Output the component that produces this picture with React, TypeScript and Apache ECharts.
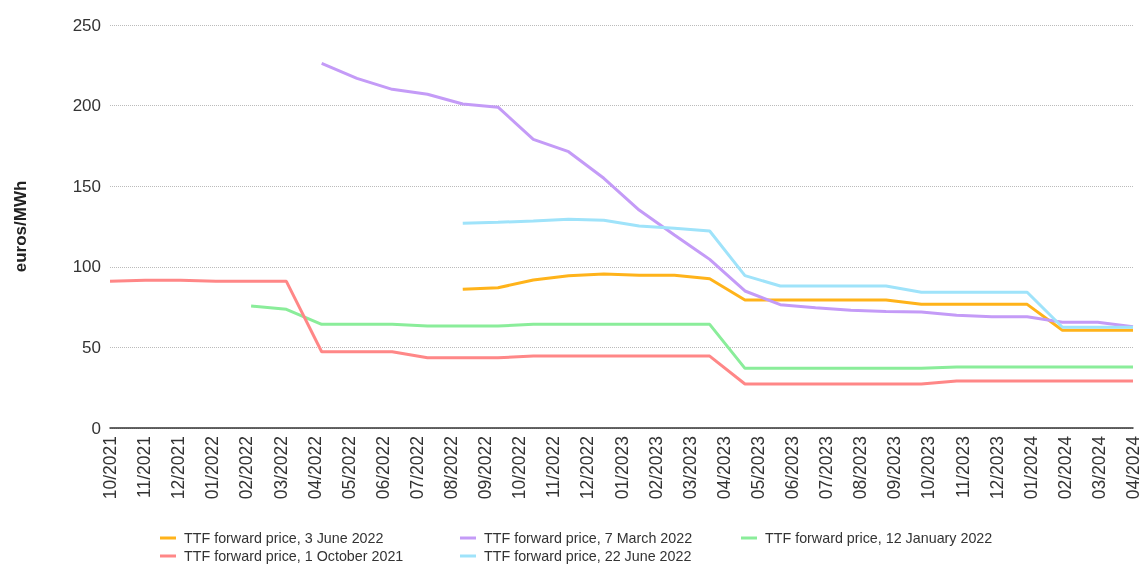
import React, { useEffect, useRef } from "react";
import * as echarts from "echarts";

// Displayed tick labels (31 months)
const axisLabels = [
  "10/2021", "11/2021", "12/2021", "01/2022", "02/2022", "03/2022", "04/2022", "05/2022",
  "06/2022", "07/2022", "08/2022", "09/2022", "10/2022", "11/2022", "12/2022", "01/2023",
  "02/2023", "03/2023", "04/2023", "05/2023", "06/2023", "07/2023", "08/2023", "09/2023",
  "10/2023", "11/2023", "12/2023", "01/2024", "02/2024", "03/2024", "04/2024",
];

// Data months (30 delivery months)
const dataMonths = [
  "10/2021", "11/2021", "12/2021", "01/2022", "02/2022", "03/2022", "04/2022", "05/2022",
  "06/2022", "07/2022", "08/2022", "09/2022", "10/2022", "11/2022", "12/2022", "01/2023",
  "02/2023", "03/2023", "04/2023", "05/2023", "06/2023", "07/2023", "08/2023", "09/2023",
  "10/2023", "11/2023", "12/2023", "01/2024", "02/2024", "03/2024",
];

const june3 = [
  null, null, null, null, null, null, null, null, null, null,
  86, 87, 91.8, 94.5, 95.5, 94.7, 94.7, 92.6, 79.4, 79.4,
  79.4, 79.4, 79.4, 76.7, 76.7, 76.7, 76.7, 60.6, 60.6, 60.6,
];
const march7 = [
  null, null, null, null, null, null,
  226.2, 216.9, 210.1, 207, 201, 199, 179.1, 171.4, 154.9, 135.2,
  119.7, 104.6, 85, 76.5, 74.6, 73, 72.2, 72, 69.9, 69,
  69, 65.6, 65.6, 62.8,
];
const jan12 = [
  null, null, null, null,
  75.7, 73.6, 64.3, 64.3, 64.3, 63.3, 63.3, 63.3, 64.3, 64.3,
  64.3, 64.3, 64.3, 64.3, 37.0, 37.0, 37.0, 37.0, 37.0, 37.0,
  37.8, 37.8, 37.8, 37.8, 37.8, 37.8,
];
const oct1 = [
  91, 91.6, 91.6, 91, 91, 91, 47.3, 47.3, 47.3, 43.6,
  43.6, 43.6, 44.6, 44.6, 44.6, 44.6, 44.6, 44.6, 27.3, 27.3,
  27.3, 27.3, 27.3, 27.3, 29.2, 29.2, 29.2, 29.2, 29.2, 29.2,
];
const june22 = [
  null, null, null, null, null, null, null, null, null, null,
  127, 127.6, 128.4, 129.5, 128.9, 125.3, 123.9, 122.2, 94.5, 88.1,
  88.1, 88.1, 88.1, 84.2, 84.2, 84.2, 84.2, 62.5, 62.5, 62.5,
];

const seriesDefs = [
  { name: "TTF forward price, 3 June 2022", data: june3, color: "#ffb31a" },
  { name: "TTF forward price, 7 March 2022", data: march7, color: "#c49bf7" },
  { name: "TTF forward price, 12 January 2022", data: jan12, color: "#8aed9a" },
  { name: "TTF forward price, 1 October 2021", data: oct1, color: "#ff8787" },
  { name: "TTF forward price, 22 June 2022", data: june22, color: "#9fe3fa" },
];

const FONT = "'Liberation Sans', Arial, sans-serif";

export default function App() {
  const ref = useRef<HTMLDivElement>(null);
  useEffect(() => {
    if (!ref.current) return;
    const chart = echarts.init(ref.current, undefined, { renderer: "svg" });
    const legendPos = [
      { left: 160, top: 531 },
      { left: 460, top: 531 },
      { left: 741, top: 531 },
      { left: 160, top: 549 },
      { left: 460, top: 549 },
    ];
    chart.setOption({
      animation: false,
      textStyle: { fontFamily: FONT },
      grid: { left: 110, right: 9, top: 25, bottom: 141, containLabel: false },
      legend: seriesDefs.map((s, i) => ({
        data: [s.name],
        left: legendPos[i].left,
        top: legendPos[i].top,
        icon: "rect",
        itemWidth: 16,
        itemHeight: 3,
        itemGap: 6,
        padding: 0,
        textStyle: { fontSize: 14.3, color: "#333", fontFamily: FONT, padding: [0, 0, 0, 3] },
      })),
      xAxis: [
        {
          type: "category",
          data: axisLabels,
          boundaryGap: false,
          axisLine: { show: true, lineStyle: { color: "#333", width: 1.5 } },
          axisTick: { show: false },
          axisLabel: {
            interval: 0,
            rotate: 90,
            fontSize: 17.5,
            color: "#333",
            margin: 8,
            fontFamily: FONT,
          },
          splitLine: { show: false },
        },
        {
          type: "category",
          data: dataMonths,
          boundaryGap: false,
          show: false,
          position: "bottom",
        },
      ],
      yAxis: {
        type: "value",
        min: 0,
        max: 250,
        interval: 50,
        name: "euros/MWh",
        nameLocation: "middle",
        nameGap: 81,
        nameTextStyle: { fontSize: 17, fontWeight: "bold", color: "#222", fontFamily: FONT },
        axisLine: { show: false },
        axisTick: { show: false },
        axisLabel: { fontSize: 17, color: "#333", margin: 9, fontFamily: FONT },
        splitLine: { show: true, lineStyle: { type: "dotted", color: "#bbb", width: 1 } },
      },
      series: seriesDefs.map((s) => ({
        name: s.name,
        type: "line",
        xAxisIndex: 1,
        data: s.data,
        symbol: "none",
        connectNulls: false,
        lineStyle: { color: s.color, width: 3 },
        itemStyle: { color: s.color },
      })),
    });
    return () => chart.dispose();
  }, []);
  return (
    <div
      ref={ref}
      style={{ position: "fixed", left: 0, top: 0, width: 1142, height: 569 }}
    />
  );
}
